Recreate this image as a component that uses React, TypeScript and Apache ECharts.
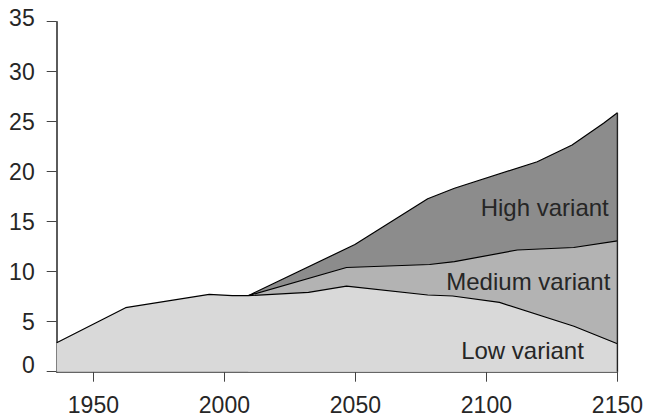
import React, { useEffect, useRef } from "react";
import * as echarts from "echarts";

// Historical + low variant
const lowYears = [1936, 1962.3, 1994.2, 2003, 2009.1, 2032.1, 2046.6, 2077.6, 2087.1, 2105, 2133.4, 2150];
const lowValues = [2.9, 6.4, 7.74, 7.6, 7.6, 7.94, 8.55, 7.67, 7.57, 6.93, 4.55, 2.8];

const mediumYears = [2009.1, 2046.6, 2078.3, 2087.8, 2111.8, 2133.3, 2150];
const mediumValues = [7.6, 10.42, 10.72, 11.0, 12.17, 12.42, 13.08];

const highYears = [2009.1, 2049.8, 2077.6, 2087.8, 2119.4, 2132.7, 2144.7, 2150];
const highValues = [7.6, 12.72, 17.3, 18.34, 21.0, 22.67, 24.84, 25.9];

const xTicks = [1950, 2000, 2050, 2100, 2150];
const yTicks = [0, 5, 10, 15, 20, 25, 30, 35];

const labelTexts = ["High variant", "Medium variant", "Low variant"];
const labelYears = [2146.7, 2147.3, 2137.2];
const labelValues = [16.42, 9.04, 2.08];

const zip = (xs: number[], ys: number[]) => xs.map((x, i) => [x, ys[i]]);

const FONT = "'Liberation Sans', Arial, Helvetica, sans-serif";
const TEXT = "#262626";

export default function App() {
  const ref = useRef<HTMLDivElement>(null);
  useEffect(() => {
    if (!ref.current) return;
    document.body.style.margin = "0";
    const chart = echarts.init(ref.current, undefined, { renderer: "svg" });
    const areaSeries = (name: string, data: number[][], color: string, z: number) => ({
      name,
      type: "line",
      data,
      symbol: "none",
      z,
      lineStyle: { color: "#000", width: 1.2 },
      areaStyle: { color, opacity: 1, origin: "start" },
    });
    const lastHigh = highValues[highValues.length - 1];
    chart.setOption({
      animation: false,
      backgroundColor: "#fff",
      grid: { left: 56.7, right: 25.3, top: 21.7, bottom: 47.3, containLabel: false },
      xAxis: {
        type: "value",
        min: 1936,
        max: 2150,
        splitLine: { show: false },
        axisLine: { show: true, lineStyle: { color: "#333", width: 1.6 } },
        axisTick: { show: true, length: 10, lineStyle: { color: "#444", width: 1 }, customValues: xTicks },
        axisLabel: {
          show: true,
          margin: 21.5,
          fontFamily: FONT,
          fontSize: 23,
          color: TEXT,
          customValues: xTicks,
          formatter: (v: number) => String(v),
        },
      },
      yAxis: {
        type: "value",
        min: 0,
        max: 35,
        interval: 5,
        splitLine: { show: false },
        axisLine: { show: true, lineStyle: { color: "#333", width: 1.6 } },
        axisTick: { show: true, length: 10, lineStyle: { color: "#444", width: 1 }, customValues: yTicks },
        axisLabel: {
          show: true,
          margin: 22,
          fontFamily: FONT,
          fontSize: 23,
          color: TEXT,
          customValues: yTicks,
          formatter: (v: number) =>
            v === 0 ? "{lo|0}" : v === 35 ? "{hi|35}" : String(v),
          rich: {
            lo: { fontFamily: FONT, fontSize: 23, color: TEXT, padding: [0, 0, 14, 0] },
            hi: { fontFamily: FONT, fontSize: 23, color: TEXT, padding: [0, 0, 7, 0] },
          },
        },
      },
      series: [
        areaSeries("High variant", zip(highYears, highValues), "#8c8c8c", 1),
        areaSeries("Medium variant", zip(mediumYears, mediumValues), "#b3b3b3", 2),
        areaSeries("Low variant", zip(lowYears, lowValues), "#d9d9d9", 3),
        {
          type: "line",
          data: [[2150, 0], [2150, lastHigh]],
          symbol: "none",
          z: 4,
          lineStyle: { color: "#222", width: 1.4 },
        },
      ],
    });
    const graphics = labelTexts.map((t, i) => {
      const p = chart.convertToPixel({ gridIndex: 0 }, [labelYears[i], labelValues[i]]) as number[];
      return {
        type: "text",
        x: p[0],
        y: p[1],
        z: 10,
        style: {
          text: t,
          fontFamily: FONT,
          fontSize: 24,
          fill: TEXT,
          textAlign: "right",
          textVerticalAlign: "middle",
        },
      };
    });
    chart.setOption({ graphic: graphics });
    return () => chart.dispose();
  }, []);
  return <div ref={ref} style={{ width: 646, height: 419 }} />;
}
